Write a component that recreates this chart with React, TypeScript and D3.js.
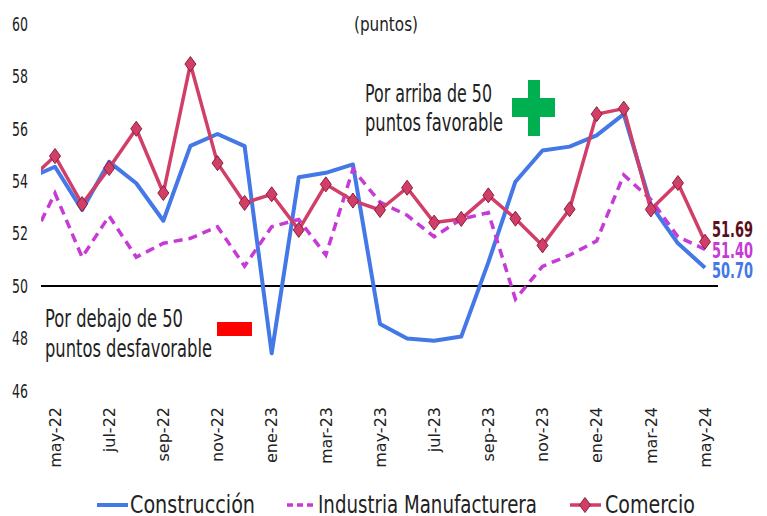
import React from "react";
import * as d3 from "d3";

// abr-22 is a leading point that the plot area clips at its left edge
const months = [
  "abr-22", "may-22", "jun-22", "jul-22", "ago-22", "sep-22", "oct-22", "nov-22", "dic-22",
  "ene-23", "feb-23", "mar-23", "abr-23", "may-23", "jun-23", "jul-23", "ago-23", "sep-23",
  "oct-23", "nov-23", "dic-23", "ene-24", "feb-24", "mar-24", "abr-24", "may-24",
];
const tickMonths = [
  "may-22", "jul-22", "sep-22", "nov-22", "ene-23", "mar-23", "may-23",
  "jul-23", "sep-23", "nov-23", "ene-24", "mar-24", "may-24",
];
const construccion = [
  54.1, 54.55, 52.9, 54.74, 53.92, 52.49, 55.35, 55.8, 55.34, 47.43, 54.15, 54.32, 54.64,
  48.55, 48.0, 47.91, 48.07, 50.9, 53.98, 55.17, 55.32, 55.75, 56.56, 53.1, 51.63, 50.7,
];
const industria = [
  51.45, 53.54, 51.1, 52.67, 51.1, 51.63, 51.82, 52.26, 50.76, 52.26, 52.54, 51.18, 54.45,
  53.2, 52.7, 51.88, 52.55, 52.8, 49.5, 50.75, 51.18, 51.72, 54.24, 53.3, 51.88, 51.4,
];
const comercio = [
  54.0, 54.96, 53.13, 54.5, 56.0, 53.55, 58.47, 54.69, 53.17, 53.5, 52.14, 53.88, 53.26,
  52.9, 53.75, 52.42, 52.56, 53.46, 52.57, 51.55, 52.93, 56.56, 56.77, 52.92, 53.93, 51.69,
];
const yTicks = [46, 48, 50, 52, 54, 56, 58, 60];
const endLabels = ["51.69", "51.40", "50.70"];
const seriesNames = ["Construcción", "Industria Manufacturera", "Comercio"];

const BLUE = "#4378e6";
const MAGENTA = "#c63ad6";
const RED = "#d13f69";
const FONT = "DejaVu Sans";

export default function App() {
  const x = d3.scaleLinear().domain([1, 25]).range([55, 705]);
  const y = d3.scaleLinear().domain([46, 60]).range([390.8, 24]);
  const line = d3
    .line<number>()
    .x((_, i) => x(i))
    .y((d) => y(d));

  const diamond = (cx: number, cy: number, w = 5.5, h = 7.5) =>
    `M${cx},${cy - h}L${cx + w},${cy}L${cx},${cy + h}L${cx - w},${cy}Z`;

  const last = months.length - 1;

  return (
    <svg
      width={767}
      height={516}
      style={{ position: "absolute", left: 0, top: 0, background: "#fff" }}
      fontFamily={FONT}
    >
      <defs>
        <clipPath id="plot">
          <rect x={41} y={0} width={678} height={420} />
        </clipPath>
      </defs>

      {/* y tick labels */}
      {yTicks.map((t) => (
        <text
          key={t}
          x={28}
          y={y(t)}
          dy="0.36em"
          textAnchor="end"
          fontSize={19}
          fill="#222"
          textLength={16}
          lengthAdjust="spacingAndGlyphs"
        >
          {t}
        </text>
      ))}

      {/* title */}
      <text x={354} y={31} fontSize={19} fill="#222" textLength={64} lengthAdjust="spacingAndGlyphs">
        (puntos)
      </text>

      {/* 50 reference line */}
      <line x1={41} x2={718} y1={y(50)} y2={y(50)} stroke="#000" strokeWidth={2} />

      {/* annotations */}
      <text x={365} y={102} fontSize={24} fill="#222" textLength={127} lengthAdjust="spacingAndGlyphs">
        Por arriba de 50
      </text>
      <text x={365} y={131} fontSize={24} fill="#222" textLength={138} lengthAdjust="spacingAndGlyphs">
        puntos favorable
      </text>
      <rect x={528} y={80} width={12} height={56} fill="#00b050" />
      <rect x={512} y={98} width={43} height={19} fill="#00b050" />

      <text x={45} y={327} fontSize={24} fill="#222" textLength={138} lengthAdjust="spacingAndGlyphs">
        Por debajo de 50
      </text>
      <text x={45} y={357} fontSize={24} fill="#222" textLength={167} lengthAdjust="spacingAndGlyphs">
        puntos desfavorable
      </text>
      <rect x={217} y={322} width={35} height={14} fill="#ff0000" />

      {/* series */}
      <g clipPath="url(#plot)">
        <path d={line(construccion) ?? ""} fill="none" stroke={BLUE} strokeWidth={4} strokeLinejoin="round" />
        <path
          d={line(industria) ?? ""}
          fill="none"
          stroke={MAGENTA}
          strokeWidth={3.5}
          strokeDasharray="9,6"
        />
        <path d={line(comercio) ?? ""} fill="none" stroke={RED} strokeWidth={3.5} strokeLinejoin="round" />
        {comercio.map((v, i) =>
          i === 0 ? null : (
            <path key={i} d={diamond(x(i), y(v))} fill={RED} stroke="#8a1f3c" strokeWidth={1} />
          )
        )}
      </g>

      {/* end labels */}
      <text x={712} y={237} fontSize={22} fontWeight="bold" fill="#5c0f1a" textLength={41} lengthAdjust="spacingAndGlyphs">
        {endLabels[0]}
      </text>
      <text x={712} y={258} fontSize={22} fontWeight="bold" fill={MAGENTA} textLength={41} lengthAdjust="spacingAndGlyphs">
        {endLabels[1]}
      </text>
      <text x={712} y={278} fontSize={22} fontWeight="bold" fill={BLUE} textLength={41} lengthAdjust="spacingAndGlyphs">
        {endLabels[2]}
      </text>

      {/* x tick labels */}
      {tickMonths.map((m) => {
        const i = months.indexOf(m);
        const cx = x(i);
        return (
          <text
            key={m}
            transform={`translate(${cx},407) rotate(-90)`}
            textAnchor="end"
            dy="0.36em"
            fontSize={16}
            fill="#222"
          >
            {m}
          </text>
        );
      })}

      {/* legend */}
      <line x1={97} x2={128} y1={505} y2={505} stroke={BLUE} strokeWidth={4} />
      <text x={130} y={513} fontSize={25} fill="#222" textLength={125} lengthAdjust="spacingAndGlyphs">
        {seriesNames[0]}
      </text>
      <line x1={287} x2={314} y1={505} y2={505} stroke={MAGENTA} strokeWidth={3.5} strokeDasharray="6,4" />
      <text x={318} y={513} fontSize={25} fill="#222" textLength={219} lengthAdjust="spacingAndGlyphs">
        {seriesNames[1]}
      </text>
      <line x1={570} x2={601} y1={505} y2={505} stroke={RED} strokeWidth={3.5} />
      <path d={diamond(585, 505)} fill={RED} stroke="#8a1f3c" strokeWidth={1} />
      <text x={605} y={513} fontSize={25} fill="#222" textLength={90} lengthAdjust="spacingAndGlyphs">
        {seriesNames[2]}
      </text>
    </svg>
  );
}
